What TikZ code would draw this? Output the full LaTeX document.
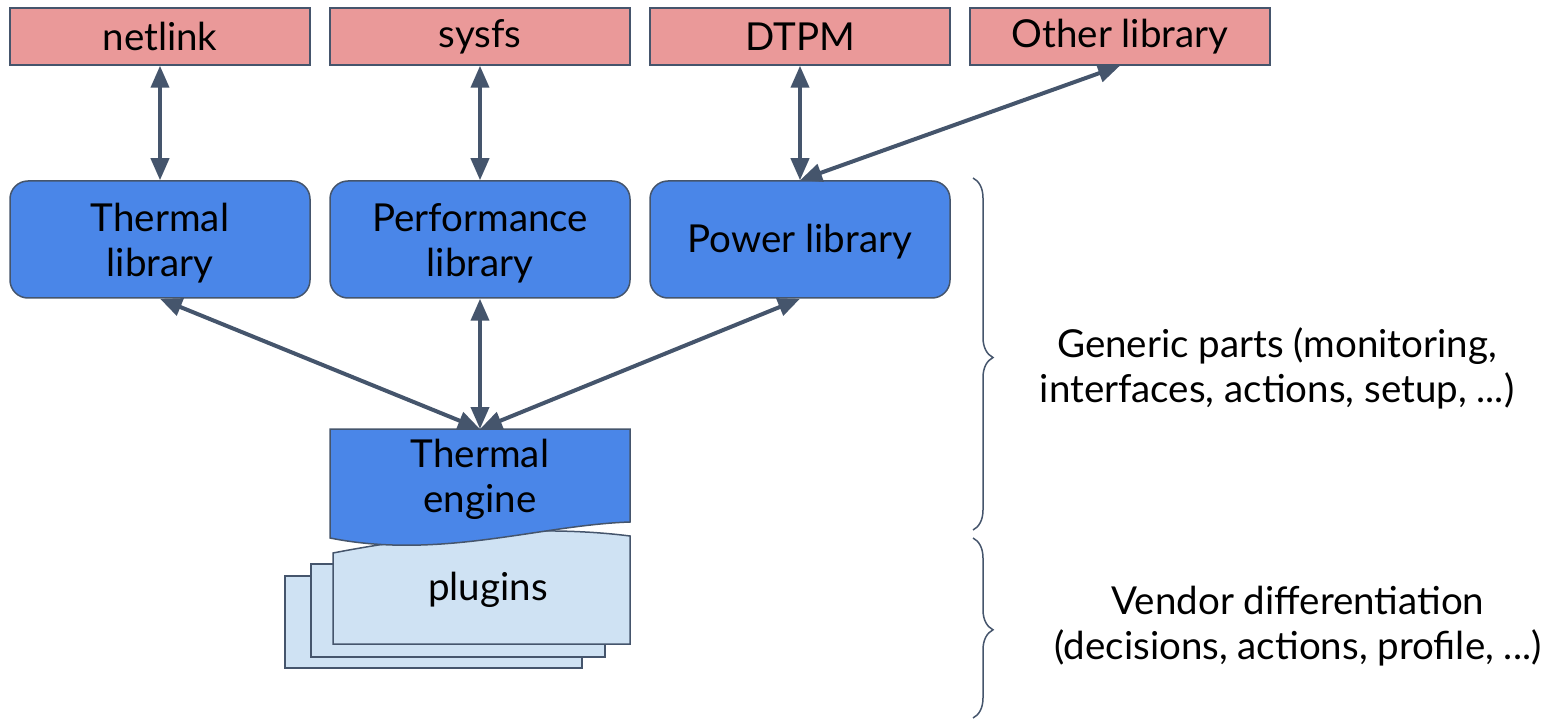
\documentclass[tikz,border=0pt]{standalone}
\usepackage{fontspec}
\setmainfont{Lato}
\usetikzlibrary{arrows.meta,decorations.pathreplacing}
\definecolor{pinkf}{HTML}{EA9999}
\definecolor{bluef}{HTML}{4A86E8}
\definecolor{lightf}{HTML}{CFE2F3}
\definecolor{edgec}{HTML}{45556C}
\begin{document}
\begin{tikzpicture}[x=1pt,y=-1pt,
  txt/.style={font=\fontsize{38.5}{45}\selectfont, align=center, text=black},
  topbox/.style={txt, draw=edgec, line width=1.5pt, fill=pinkf, minimum width=300pt, minimum height=57pt, inner sep=0pt},
  libbox/.style={draw=edgec, line width=1.5pt, fill=bluef, rounded corners=18pt, minimum width=300pt, minimum height=117pt, inner sep=0pt},
  shapeline/.style={draw=edgec, line width=1.5pt},
  dbl/.style={draw=edgec, line width=4pt, {Triangle[length=22pt,width=18pt]}-{Triangle[length=22pt,width=18pt]}, shorten <=0pt, shorten >=0pt},
  bracestyle/.style={draw=edgec, line width=1.5pt, decorate, decoration={brace, amplitude=20pt, aspect=0.51}}
]
\useasboundingbox (0,0) rectangle (1548,719);

% top boxes
\node[topbox] (netlink) at (160,36.5) {netlink};
\node[topbox] (sysfs) at (480,36.5) {sysfs};
\node[topbox] (dtpm) at (800,36.5) {DTPM};
\node[topbox] (other) at (1120,36.5) {Other library};

% libraries
\node[libbox] (thermal) at (160,239.5) {};
\node[libbox] (perf) at (480,239.5) {};
\node[libbox] (power) at (800,239.5) {};
\node[txt] (thermaltxt) at (160,243) {Thermal\\library};
\node[txt] (perftxt) at (480,243) {Performance\\library};
\node[txt] (powertxt) at (800,242) {Power library};

% back plugins
\draw[shapeline, fill=lightf] (285,576) rectangle (582,668);
\draw[shapeline, fill=lightf] (311,564) rectangle (605,657);
\draw[shapeline, fill=lightf] (333,553) .. controls (400,540) and (520,522) .. (630,536) -- (630,644) -- (333,644) -- cycle;
\node[txt] (plugins) at (488,590) {plugins};

% thermal engine
\draw[shapeline, fill=bluef] (330,429) -- (630,429) -- (630,522) .. controls (540,525) and (440,560) .. (330,538) -- cycle;
\node[txt] (engine) at (480,479) {Thermal\\engine};
\coordinate (enginetop) at (480,429);

% arrows
\draw[dbl] (netlink) -- (thermal);
\draw[dbl] (sysfs) -- (perf);
\draw[dbl] (dtpm) -- (power);
\draw[dbl] (other.south) -- (power.north);
\draw[dbl] (thermal.south) -- (enginetop);
\draw[dbl] (perf.south) -- (enginetop);
\draw[dbl] (power.south) -- (enginetop);

% braces
\draw[bracestyle] (973,178) -- (973,530);
\draw[bracestyle] (973,538) -- (973,718);

\node[txt] (generic) at (1277,368) {Generic parts (monitoring,\\interfaces, actions, setup, ...)};
\node[txt] (vendor) at (1298,626) {Vendor differentiation\\(decisions, actions, profile, ...)};
\end{tikzpicture}
\end{document}
